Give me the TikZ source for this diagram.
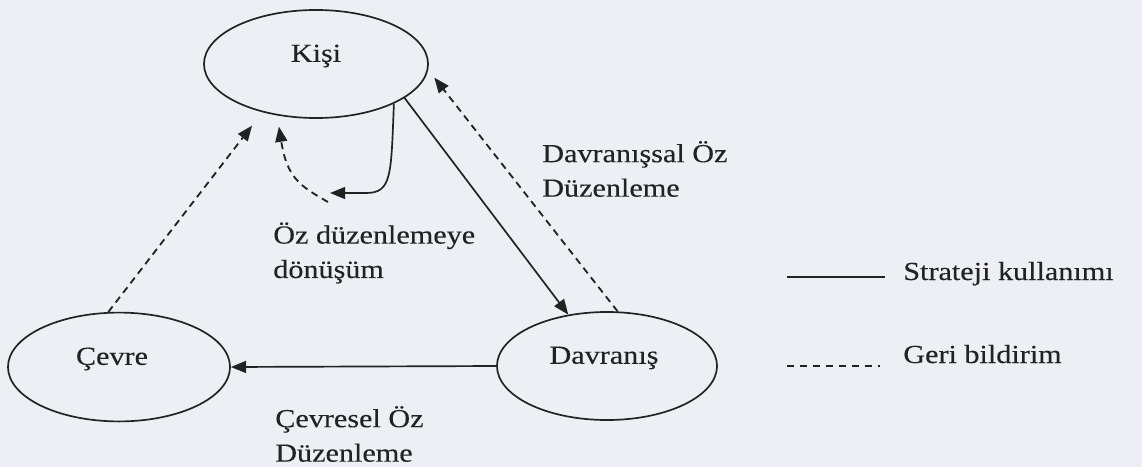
\documentclass[tikz,border=0pt]{standalone}
\usepackage{fontspec}
\setmainfont{Liberation Serif}[FakeStretch=1.16,FakeBold=0.25]
\usetikzlibrary{shapes.geometric,arrows.meta}
\definecolor{paper}{HTML}{ECF0F4}
\definecolor{ink}{HTML}{222222}

\begin{document}
\begin{tikzpicture}[x=0.025cm,y=-0.025cm,font=\fontsize{18.5}{24.5}\selectfont,
  every node/.style={text=ink},
  oval/.style={draw=ink,ellipse,line width=1.2pt,inner sep=0pt},
  strat/.style={draw=ink,line width=1.2pt},
  feedback/.style={draw=ink,line width=1.3pt,dash pattern=on 5pt off 3.6pt},
  tip/.style={-{Triangle[length=.38cm,width=.3cm]}},
  lbl/.style={anchor=west,align=left,inner sep=0pt}]
% Scanned page tone and frame.
\fill[paper] (0,0) rectangle (1142,467);
% The three parts of the model.
\node[oval,minimum width=5.6cm,minimum height=2.7cm] (kisi) at (316,64) {};
\node[oval,minimum width=5.55cm,minimum height=2.72cm] (cevre) at (119,367) {};
\node[oval,minimum width=5.5cm,minimum height=2.7cm] (davranis) at (607,366) {};
\node (kisit) at (316,56) {Kişi};
\node (cevret) at (112,359) {Çevre};
\node (davranist) at (604,358) {Davranış};
% Strategy use (solid) and feedback (dashed).
\draw[strat,tip] (kisi.-21) -- (davranis.127);
\draw[feedback,tip,shorten >=7pt] (davranis.79) -- (kisi.-3);
\draw[strat,tip] (davranis.west) -- (cevre.east);
\draw[feedback,tip,shorten >=12pt] (cevre.101) -- (kisi.222);
% Self-regulation loop below Kişi.
\coordinate (loopend) at (330,193);
\coordinate (loopstart) at (328,202);
\draw[strat,tip] (kisi.-27) .. controls (391,175) and (392,193) .. (366,193) -- (loopend);
\draw[feedback,tip,shorten >=8pt] (loopstart) .. controls (300,186) and (287,178) .. (kisi.233);
% Arrow labels.
\node[lbl] (davlbl) at (542,169) {Davranışsal Öz\\Düzenleme};
\node[lbl] (ozlbl) at (273,253) {Öz düzenlemeye\\dönüşüm};
\node[lbl] (cevlbl) at (275,434) {Çevresel Öz\\Düzenleme};
% Legend.
\node[anchor=base west,inner sep=0pt] (strattxt) at (903,280) {Strateji kullanımı};
\node[anchor=base west,inner sep=0pt] (geritxt) at (903,363) {Geri bildirim};
\draw[strat] (787,277) -- (885,277);
\draw[feedback,dash pattern=on 5pt off 4.2pt] (787,366) -- (880,366);
\end{tikzpicture}
\end{document}
